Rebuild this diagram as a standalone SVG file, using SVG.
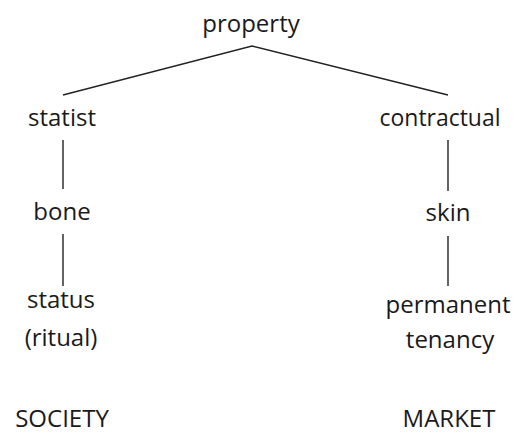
<svg xmlns="http://www.w3.org/2000/svg" width="515" height="434" viewBox="0 0 515 434">
<style>
text{font-family:"Open Sans","Noto Sans",sans-serif;font-size:24px;fill:#1a1a1a;text-anchor:middle}
.c{stroke:#222;stroke-width:1.4;fill:none}
</style>
<rect width="515" height="434" fill="#fff"/>
<g id="connectors">
<polyline class="c" points="63,95 252,46 448,95"/>
<line class="c" x1="63" y1="140" x2="63" y2="189"/>
<line class="c" x1="448" y1="140" x2="448" y2="191"/>
<line class="c" x1="63" y1="234" x2="63" y2="286"/>
<line class="c" x1="448" y1="236" x2="448" y2="286"/>
</g>
<g id="property"><text x="251" y="32">property</text></g>
<g id="statist"><text x="62" y="126">statist</text></g>
<g id="contractual"><text x="440" y="126" textLength="121" lengthAdjust="spacingAndGlyphs">contractual</text></g>
<g id="bone"><text x="62" y="220">bone</text></g>
<g id="skin"><text x="448" y="221">skin</text></g>
<g id="status"><text x="61" y="308">status</text><text x="61" y="346">(ritual)</text></g>
<g id="tenancy"><text x="448" y="313">permanent</text><text x="450" y="348">tenancy</text></g>
<g id="society"><text x="62" y="427">SOCIETY</text></g>
<g id="market"><text x="449" y="427">MARKET</text></g>
</svg>
